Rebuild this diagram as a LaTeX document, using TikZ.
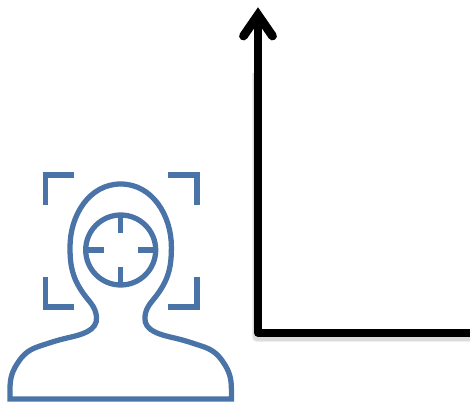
\documentclass[tikz,border=0pt]{standalone}
\definecolor{iconblue}{HTML}{4A74A8}
\tikzset{
  icon/.style={draw=iconblue, line width=3pt, line join=miter},
  axis/.style={draw=black, line width=4.2pt, line join=round},
  axishead/.style={draw=black, line width=5pt, line join=miter, line cap=round},
  axisshadow/.style={draw=black, opacity=0.07, line join=round}
}
\begin{document}
\begin{tikzpicture}[x=0.02cm, y=0.02cm]
  \useasboundingbox (0,0) rectangle (470,403);

  \coordinate (O) at (258,70);
  \coordinate (Y) at (258,388);
  \coordinate (X) at (474,70);
  \coordinate (L) at (243.5,367);
  \coordinate (R) at (272.5,367);
  \coordinate (Ys) at (257,330);
  \coordinate (Os) at (257,66);
  \coordinate (Xs) at (474,66);

  \draw[axisshadow, line width=6pt] (Ys) -- (Os) -- (Xs);
  \draw[axisshadow, line width=4.6pt] (Ys) -- (Os) -- (Xs);
  \draw[axis] (Y) -- (O) -- (X);
  \draw[axishead] (L) -- (Y) -- (R);

  \coordinate (Bl) at (10,4);
  \coordinate (Al) at (10,14);
  \coordinate (Dl) at (19,42);
  \coordinate (Sl) at (40,57);
  \coordinate (Ml) at (67,65);
  \coordinate (Nl) at (96.5,86);
  \coordinate (Cl) at (83,110);
  \coordinate (Hl) at (70,156);
  \coordinate (T) at (120.7,219);
  \coordinate (Hr) at (171.4,156);
  \coordinate (Cr) at (158.4,110);
  \coordinate (Nr) at (144.9,86);
  \coordinate (Mr) at (174.4,65);
  \coordinate (Sr) at (201.4,57);
  \coordinate (Dr) at (222.4,42);
  \coordinate (Ar) at (231.4,14);
  \coordinate (Br) at (231.4,4);

  \draw[icon] (Bl) -- (Al) to[out=90,in=-125] (Dl) to[out=55,in=198] (Sl)
    to[out=18,in=193] (Ml) to[out=13,in=-85] (Nl) to[out=95,in=-55] (Cl)
    to[out=125,in=-90] (Hl) to[out=90,in=180] (T) to[out=0,in=90] (Hr)
    to[out=-90,in=55] (Cr) to[out=-125,in=85] (Nr) to[out=-95,in=167] (Mr)
    to[out=-13,in=162] (Sr) to[out=-18,in=125] (Dr) to[out=-55,in=90] (Ar)
    -- (Br) -- cycle;

  \coordinate (C) at (120.7,153);
  \draw[icon] (C) circle (35);
  \draw[icon] (120.7,186) -- (120.7,170);
  \draw[icon] (120.7,136) -- (120.7,120);
  \draw[icon] (88,153) -- (104,153);
  \draw[icon] (138,153) -- (154,153);

  \draw[icon] (45.5,198) -- (45.5,228) -- (74,228);
  \draw[icon] (168,228) -- (197,228) -- (197,198);
  \draw[icon] (45.5,126) -- (45.5,96) -- (74,96);
  \draw[icon] (168,96) -- (197,96) -- (197,126);
\end{tikzpicture}
\end{document}
